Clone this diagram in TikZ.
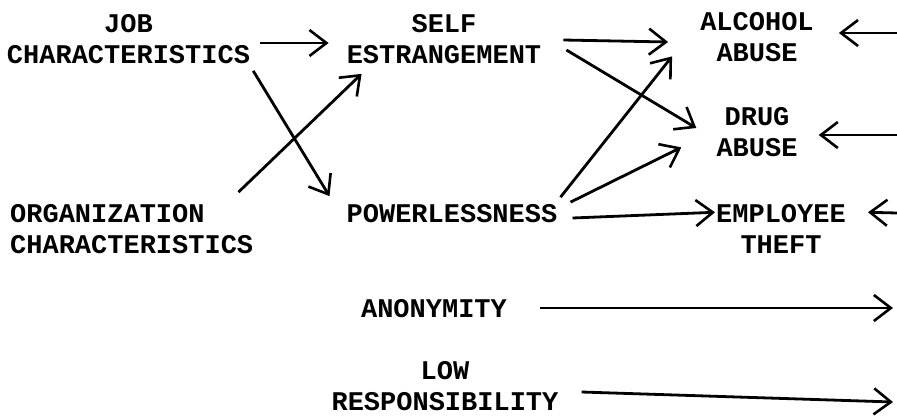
\documentclass[tikz,border=0pt]{standalone}
\usepackage{fontspec}
\setmonofont{Liberation Mono}
\usetikzlibrary{arrows.meta}
\begin{document}
\begin{tikzpicture}[x=1pt, y=-1pt,
	box/.style={font=\ttfamily\bfseries\fontsize{27}{31}\selectfont, inner sep=0pt, align=center},
	arr/.style={line width=2.8pt, -{Straight Barb[length=17pt,width=26pt,line width=2.6pt]}}]
	\useasboundingbox (0,0) rectangle (897,418);
	
	%variables
	\node[box] (job) at (128.5, 39){JOB\\CHARACTERISTICS};
	\node[box, align=left, anchor=west] (org) at (10, 229){ORGANIZATION\\CHARACTERISTICS};
	\node[box] (self) at (444, 39){SELF\\ESTRANGEMENT};
	\node[box] (pow) at (452, 213.5){POWERLESSNESS};
	\node[box] (alc) at (757, 37.5){ALCOHOL\\ABUSE};
	\node[box] (drug) at (757, 132.5){DRUG\\ABUSE};
	\node[box] (emp) at (781, 229){EMPLOYEE\\THEFT};
	\node[box] (anon) at (434, 309){ANONYMITY};
	\node[box] (low) at (445, 386){LOW\\RESPONSIBILITY};
	
	%free ends at the right edge
	\coordinate (anonend) at (893, 308);
	\coordinate (lowend) at (893, 402);
	\coordinate (alcin) at (897, 33);
	\coordinate (drugin) at (897, 135);
	\coordinate (empin) at (897, 213);
	
	%paths
	\draw[arr] ([xshift=10pt, yshift=-4pt]job.east) -- ([xshift=-18pt, yshift=-4pt]self.west);
	\draw[arr] ([xshift=3pt, yshift=-7pt]job.south east) -- ([xshift=-17pt, yshift=8pt]pow.north west);
	\draw[arr] ([xshift=-15pt, yshift=12pt]org.north east) -- ([xshift=15pt, yshift=-10pt]self.south west);
	\draw[arr] ([xshift=22pt, yshift=-1pt]self.east) -- ([xshift=-32pt, yshift=-4.5pt]alc.west);
	\draw[arr] ([xshift=25pt, yshift=-11pt]self.east) -- ([xshift=-20pt, yshift=4.5pt]drug.west);
	\draw[arr] ([xshift=3pt, yshift=7pt]pow.north east) -- ([xshift=-28pt, yshift=6pt]alc.south west);
	\draw[arr] ([xshift=13pt, yshift=2pt]pow.north east) -- ([xshift=-35pt, yshift=10pt]drug.south west);
	\draw[arr] ([xshift=15pt, yshift=-4.5pt]pow.east) -- ([xshift=-1pt, yshift=-8pt]emp.north west);
	\draw[arr] ([xshift=33pt, yshift=1pt]anon.east) -- (anonend);
	\draw[arr] ([xshift=23pt, yshift=-6pt]low.east) -- (lowend);
	\draw[arr] (alcin) -- ([xshift=25pt, yshift=4.5pt]alc.east);
	\draw[arr] (drugin) -- ([xshift=21pt, yshift=-2.5pt]drug.east);
	\draw[arr] (empin) -- ([xshift=22pt, yshift=-8pt]emp.north east);
\end{tikzpicture}
\end{document}
